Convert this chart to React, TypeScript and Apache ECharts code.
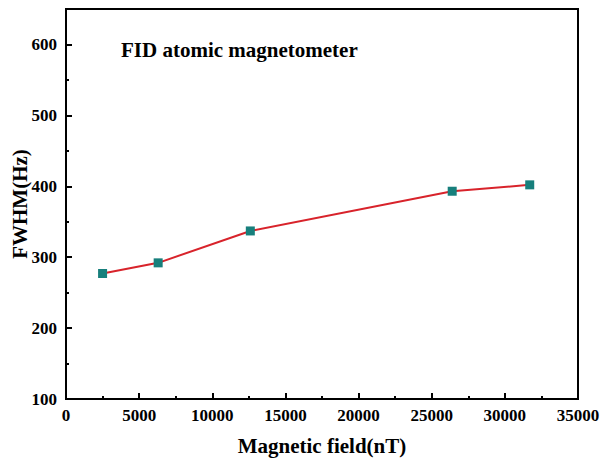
import React, { useEffect, useRef } from "react";
import * as echarts from "echarts";

const fieldValues = [2500, 6300, 12600, 26400, 31700];
const fwhmValues = [277, 292, 337, 393, 402];
const titleText = "FID atomic magnetometer";
const xName = "Magnetic field(nT)";
const yName = "FWHM(Hz)";

const FONT = "'Liberation Serif', 'Times New Roman', serif";

export default function App() {
  const ref = useRef<HTMLDivElement>(null);
  useEffect(() => {
    if (!ref.current) return;
    const chart = echarts.init(ref.current, null, { renderer: "svg" });
    const data = fieldValues.map((x, i) => [x, fwhmValues[i]]);
    chart.setOption({
      animation: false,
      backgroundColor: "#fff",
      title: {
        text: titleText,
        left: 121,
        top: 39,
        padding: 0,
        textStyle: { fontFamily: FONT, fontSize: 21, fontWeight: "bold", color: "#000" },
      },
      grid: {
        left: 66,
        right: 23,
        top: 9,
        bottom: 60,
        containLabel: false,
        outerBoundsMode: "none",
        show: true,
        borderColor: "#000",
        borderWidth: 2,
        backgroundColor: "transparent",
      },
      xAxis: {
        type: "value",
        min: 0,
        max: 35000,
        interval: 5000,
        name: xName,
        nameLocation: "middle",
        nameGap: 36,
        nameMoveOverlap: false,
        nameTextStyle: { fontFamily: FONT, fontSize: 21, fontWeight: "bold", color: "#000" },
        axisLine: { show: true, lineStyle: { color: "#000", width: 2 } },
        axisTick: { show: true, inside: true, length: 6, lineStyle: { color: "#000", width: 2 } },
        minorTick: { show: true, splitNumber: 2, length: 3, lineStyle: { color: "#000", width: 2 } },
        splitLine: { show: false },
        axisLabel: {
          margin: 8,
          formatter: (v: number) => String(v),
          fontFamily: FONT,
          fontSize: 17,
          fontWeight: "bold",
          color: "#000",
        },
      },
      yAxis: [
        {
          type: "value",
          position: "left",
          min: 100,
          max: 650,
          interval: 50,
          axisLine: { show: true, lineStyle: { color: "#000", width: 2 } },
          axisTick: { show: true, inside: true, length: 3, lineStyle: { color: "#000", width: 2 } },
          axisLabel: { show: false },
          splitLine: { show: false },
        },
        {
          type: "value",
          position: "left",
          offset: 0,
          min: 100,
          max: 650,
          interval: 100,
          name: yName,
          nameLocation: "middle",
          nameGap: 36,
          nameMoveOverlap: false,
          nameTextStyle: { fontFamily: FONT, fontSize: 21, fontWeight: "bold", color: "#000" },
          axisLine: { show: false },
          axisTick: { show: true, inside: true, length: 6, lineStyle: { color: "#000", width: 2 } },
          axisLabel: {
            margin: 9,
            showMaxLabel: false,
            formatter: (v: number) => (v === 650 ? "" : String(v)),
            fontFamily: FONT,
            fontSize: 17,
            fontWeight: "bold",
            color: "#000",
          },
          splitLine: { show: false },
        },
      ],
      series: [
        {
          type: "line",
          yAxisIndex: 0,
          data,
          symbol: "rect",
          symbolSize: 9,
          itemStyle: { color: "#177f7c" },
          lineStyle: { color: "#d8232b", width: 2 },
        },
      ],
    });
    return () => chart.dispose();
  }, []);
  return <div ref={ref} style={{ width: 601, height: 459, position: "absolute", left: 0, top: 0 }} />;
}
